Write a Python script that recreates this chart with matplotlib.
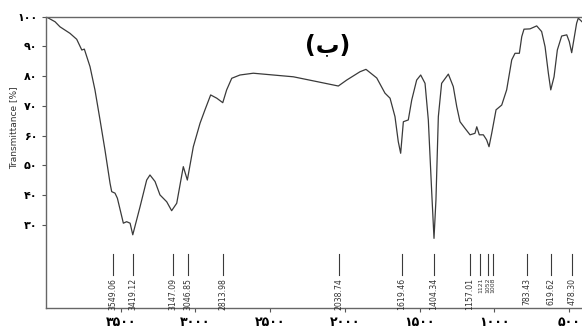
import matplotlib
matplotlib.use('Agg')
import matplotlib.pyplot as plt

# FT-IR spectrum
wavenumber = [4000, 3939, 3906, 3839, 3794, 3760, 3743, 3705, 3672, 3638, 3605, 3571,
              3560, 3538, 3522, 3482, 3460, 3437, 3419, 3370, 3326, 3304, 3270, 3237,
              3192, 3159, 3125, 3081, 3054, 3014, 2969, 2936, 2898, 2857, 2817, 2791,
              2757, 2702, 2613, 2479, 2345, 2189, 2044, 1988, 1899, 1859, 1787, 1732,
              1698, 1665, 1643, 1627, 1609, 1576, 1553, 1520, 1493, 1464, 1442, 1419,
              1404, 1391, 1375, 1353, 1308, 1275, 1252, 1230, 1197, 1163, 1130, 1118,
              1101, 1074, 1052, 1036, 1018, 989, 951, 918, 884, 862, 833, 817, 802,
              762, 717, 684, 661, 639, 623, 601, 579, 550, 516, 499, 483, 450, 439, 414]
transmittance = [100, 98.3, 96.6, 94.4, 92.4, 88.8, 89.1, 83.2, 75.4, 65.3, 55.2, 44.0,
                 41.2, 40.7, 39.0, 30.6, 31.1, 30.6, 26.7, 36.2, 45.1, 46.8, 44.6, 40.1,
                 37.8, 34.8, 37.3, 49.6, 45.1, 56.3, 64.2, 68.7, 73.7, 72.6, 71.1, 75.4,
                 79.3, 80.4, 81.0, 80.4, 79.8, 78.2, 76.7, 78.7, 81.5, 82.3, 79.4, 74.3,
                 72.6, 66.4, 58.0, 54.1, 64.7, 65.3, 72.0, 78.7, 80.4, 77.6, 65.3, 40.7,
                 25.5, 38.4, 66.4, 77.6, 80.7, 76.5, 69.8, 64.7, 62.5, 60.3, 60.8, 63.0,
                 60.3, 60.3, 58.6, 56.3, 60.8, 68.7, 70.3, 75.4, 85.5, 87.7, 87.7, 93.3,
                 95.8, 95.9, 96.9, 95.0, 89.9, 81.0, 75.4, 79.8, 88.8, 93.5, 93.9, 91.6,
                 87.9, 97.8, 99.5, 98.3]

peaks = [3549.06, 3419.12, 3147.09, 3046.85, 2813.98, 2038.74, 1619.46, 1404.34,
         1157.01, 1121, 1052, 1008, 783.43, 619.62, 478.30]
peak_labels = ['3549.06', '3419.12', '3147.09', '3046.85', '2813.98', '2038.74',
               '1619.46', '1404.34', '1157.01', '1121', '1052', '1008', '783.43',
               '619.62', '478.30']
# crowded markers are nudged apart as in the original printout
nudge = {'1157.01': 8, '1121': -28, '1052': -6, '1008': 0}

xticks = [3500, 3000, 2500, 2000, 1500, 1000, 500]
xtick_labels = ['۳۵۰۰', '۳۰۰۰', '۲۵۰۰', '۲۰۰۰', '۱۵۰۰', '۱۰۰۰', '۵۰۰']
yticks = [30, 40, 50, 60, 70, 80, 90, 100]
ytick_labels = ['۳۰', '۴۰', '۵۰', '۶۰', '۷۰', '۸۰', '۹۰', '۱۰۰']

fig = plt.figure(figsize=(5.82, 3.33), dpi=100)
ax = fig.add_axes([0.0789, 0.0751, 0.9211, 0.8748])

ax.plot(wavenumber, transmittance, color='#3a3a3a', linewidth=0.9,
        solid_joinstyle='round')

# peak markers with rotated labels underneath
for p, lab in zip(peaks, peak_labels):
    xp = p + nudge.get(lab, 0)
    ax.plot([xp, xp], [13.2, 20.2], color='#3a3a3a', linewidth=0.8)
    fs = 4.4 if lab in ('1121', '1052', '1008') else 5.6
    ax.text(xp, 12.2, lab, rotation=90, ha='center', va='top', fontsize=fs,
            color='#333333')

ax.set_xlim(4000, 414)
ax.set_ylim(2.1, 100)

ax.set_xticks(xticks)
ax.set_xticklabels(xtick_labels, fontweight='bold', fontsize=9, family='DejaVu Sans')
ax.set_yticks(yticks)
ax.set_yticklabels(ytick_labels, fontweight='bold', fontsize=8, family='DejaVu Sans')
ax.tick_params(direction='out', length=3, width=0.8, color='#555555', pad=3)

for s in ['left', 'bottom', 'top']:
    ax.spines[s].set_color('#666666')
    ax.spines[s].set_linewidth(1.0)
ax.spines['right'].set_visible(False)

ax.text(0.526, 0.903, '(ب)', transform=ax.transAxes, ha='center', va='center',
        fontsize=17, fontweight='bold', family='DejaVu Sans')

fig.text(14 / 582, 1 - 128 / 333, 'Transmittance [%]', rotation=90, ha='center',
         va='center', fontsize=6.5, color='#333333')

fig.savefig('out.png', dpi=100)
